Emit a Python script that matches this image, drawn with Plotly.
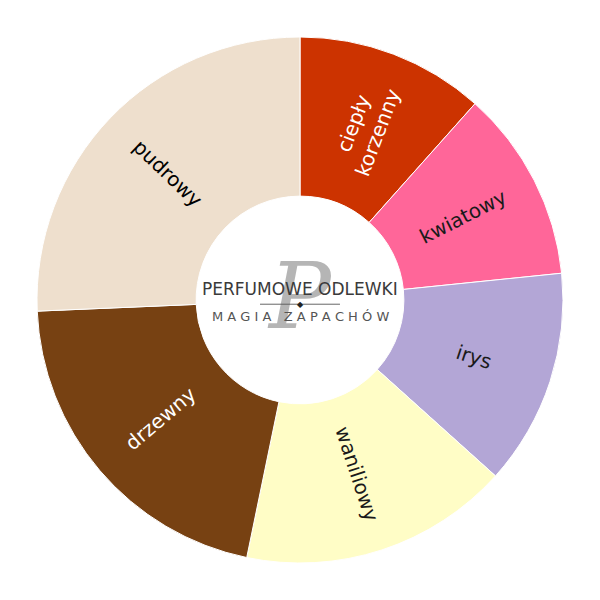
import math
import plotly.graph_objects as go

labels = ["ciepły<br>korzenny", "kwiatowy", "irys", "waniliowy", "drzewny", "pudrowy"]
values = [11.6, 11.8, 13.3, 16.6, 21.1, 25.7]
colors = ["#CC3300", "#FF6699", "#B3A6D6", "#FFFDC6", "#774112", "#EEDFCD"]
text_colors = ["#FFFFFF", "#1A1A1A", "#1A1A1A", "#1A1A1A", "#FFFFFF", "#000000"]

HOLE = 0.395

# plotly would lay "irys" horizontally (slice crosses 3 o'clock); draw that one radially ourselves
manual = {"irys"}
templates = ["" if l in manual else "%{label}" for l in labels]

fig = go.Figure(go.Pie(
    labels=labels,
    values=values,
    sort=False,
    direction="clockwise",
    rotation=0,
    hole=HOLE,
    marker=dict(colors=colors, line=dict(color="#FFFFFF", width=1)),
    texttemplate=templates,
    textposition="inside",
    insidetextorientation="radial",
    textfont=dict(family="DejaVu Sans", size=20, color=text_colors),
    showlegend=False,
))

total = sum(values)
cum = 0.0
for lab, v, tc in zip(labels, values, text_colors):
    mid = (cum + v / 2) / total * 360.0
    cum += v
    if lab not in manual:
        continue
    rfrac = (HOLE + 1) / 2 * 0.5  # in paper units (radius = 0.5 of plot area)
    th = math.radians(mid)
    fig.add_annotation(
        x=0.5 + rfrac * math.sin(th), y=0.5 + rfrac * math.cos(th),
        xref="paper", yref="paper", xanchor="center", yanchor="middle",
        text=lab, showarrow=False,
        textangle=mid - 90, font=dict(family="DejaVu Sans", size=20, color=tc),
    )

# centre logo approximation
fig.add_annotation(x=0.5, y=0.5, xref="paper", yref="paper", text="<i>P</i>",
                   showarrow=False, font=dict(family="DejaVu Serif", size=92, color="rgba(90,90,90,0.45)"),
                   yshift=4)
fig.add_annotation(x=0.5, y=0.5, xref="paper", yref="paper", text="PERFUMOWE ODLEWKI",
                   showarrow=False, font=dict(family="DejaVu Sans", size=17, color="#3A3A3A"),
                   yshift=11)
fig.add_annotation(x=0.5, y=0.5, xref="paper", yref="paper", text="M A G I A   Z A P A C H Ó W",
                   showarrow=False, font=dict(family="DejaVu Sans", size=13, color="#555555"),
                   yshift=-16)
fig.add_shape(type="line", xref="paper", yref="paper", x0=0.424, x1=0.576, y0=0.492, y1=0.492,
              line=dict(color="#666666", width=1))
fig.add_annotation(x=0.5, y=0.492, xref="paper", yref="paper", text="◆", showarrow=False,
                   font=dict(family="DejaVu Sans", size=8, color="#222222"))

fig.update_layout(
    width=600, height=600,
    margin=dict(l=29, r=45, t=29, b=45),
    paper_bgcolor="white", plot_bgcolor="white",
)

fig.write_html("out.html")
